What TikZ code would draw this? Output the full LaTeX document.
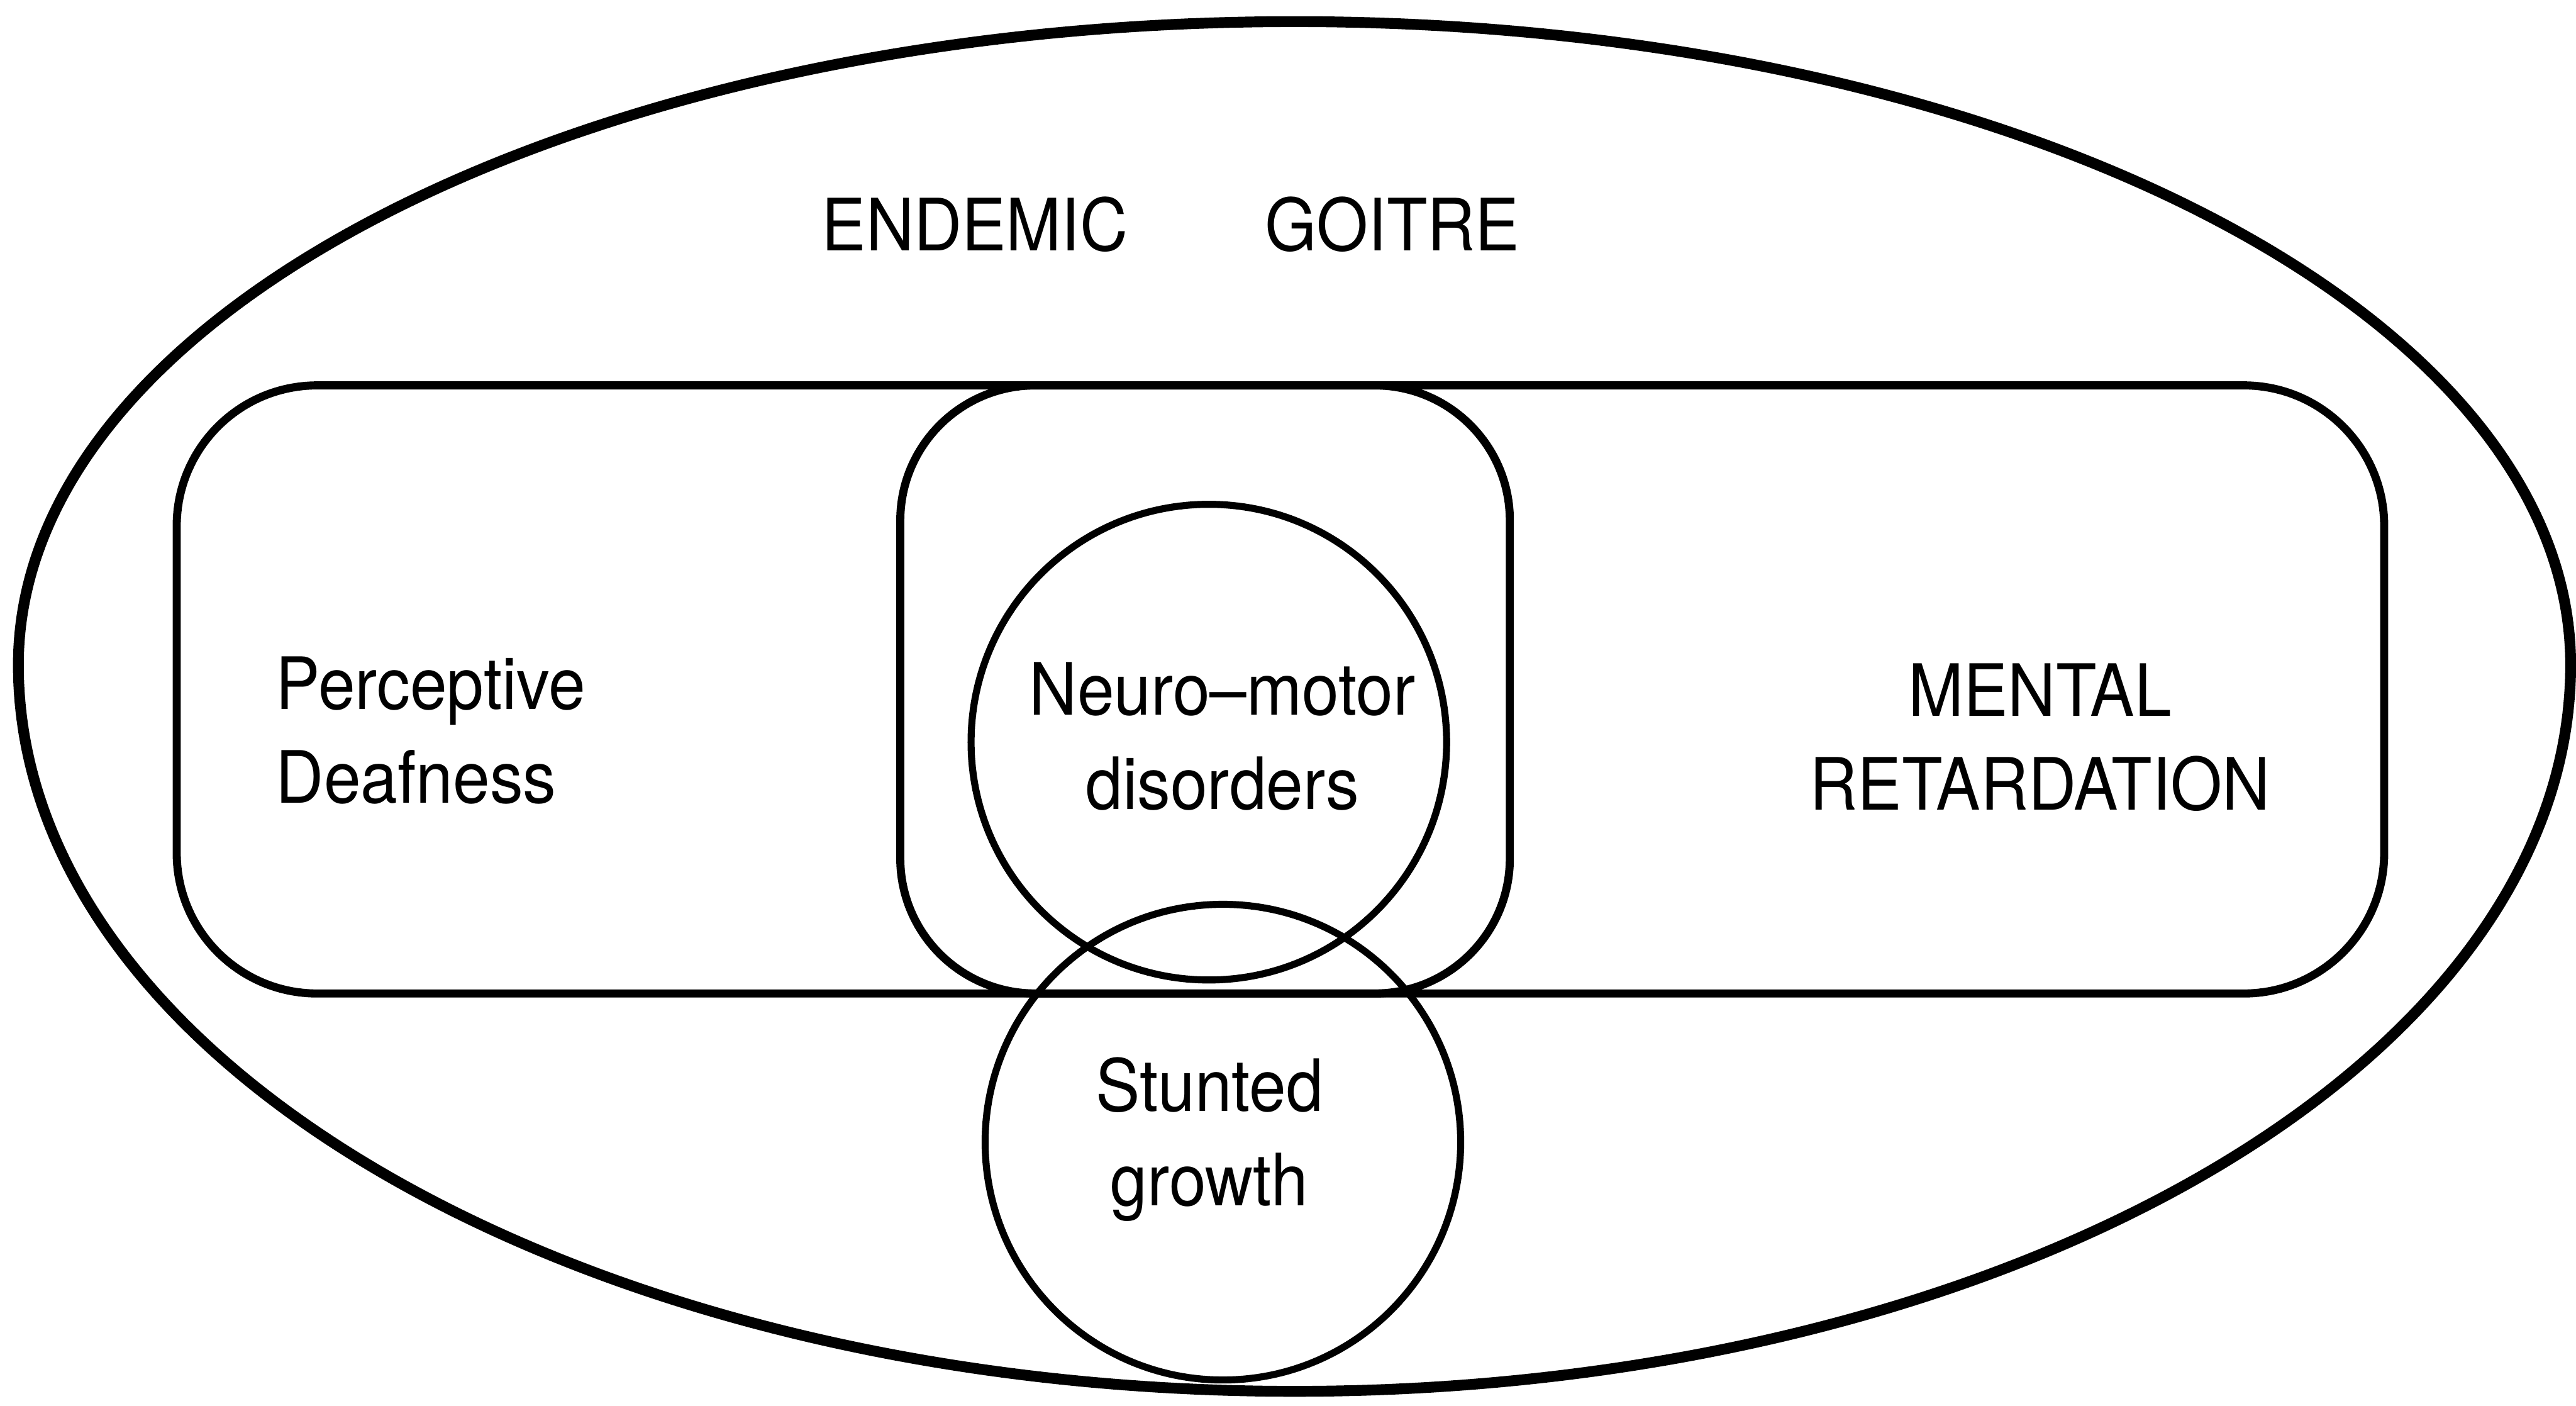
\documentclass[tikz,border=0pt]{standalone}
\usepackage{fontspec}
\setmainfont{TeX Gyre Heros}[FakeStretch=0.92]
\usepackage{tikz}

\begin{document}
\begin{tikzpicture}[
    line join=round,
    outline/.style={line width=0.2cm},
    region/.style={line width=0.15cm, rounded corners=2.6cm},
    ring/.style={line width=0.13cm},
    lbl/.style={font=\fontsize{38}{49.5}\selectfont, inner sep=0pt}
  ]
    \useasboundingbox (0, 0) rectangle (47.67, 26);

    % outer egg: endemic goitre
    \draw[outline] (0.34, 13.70) arc[start angle=180, end angle=0, x radius=23.615, y radius=11.90]
        arc[start angle=0, end angle=-180, x radius=23.615, y radius=13.44];

    % the band and the middle box
    \draw[region] (3.27, 7.62) rectangle (44.12, 18.87);
    \draw[region, rounded corners=2.5cm] (16.66, 7.62) rectangle (27.94, 18.87);

    \draw[ring] (22.37, 12.27) circle (4.40);
    \draw[ring] (22.63, 4.87) circle (4.40);

    \node[lbl, anchor=base west] (goitre) at (15.20, 21.36) {ENDEMIC\hspace{1.9em}GOITRE};
    \node[lbl, anchor=base west, align=left] (deaf) at (5.10, 11.14) {Perceptive\\Deafness};
    \node[lbl, anchor=base, align=center] (neuro) at (22.62, 11.03) {Neuro--motor\\disorders};
    \node[lbl, anchor=base, align=center] (mental) at (37.75, 11.01) {MENTAL\\RETARDATION};
    \node[lbl, anchor=base, align=center] (stunt) at (22.38, 3.70) {Stunted\\growth};
\end{tikzpicture}
\end{document}
